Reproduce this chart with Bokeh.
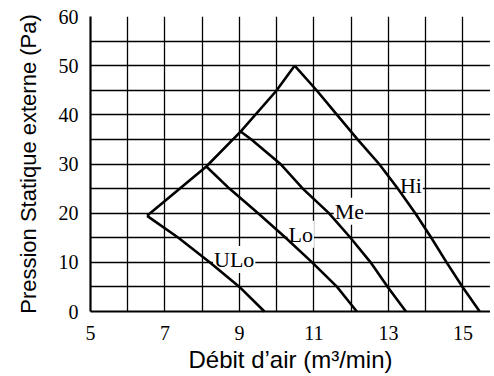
from bokeh.plotting import figure
from bokeh.models import Range1d, FixedTicker, Label
from bokeh.embed import file_html
from bokeh.resources import INLINE

# Data
env_x = [6.52, 8.11, 9.03, 9.99, 10.48]
env_y = [19.45, 29.5, 36.6, 44.9, 50.0]

hi_x = [10.48, 11.07, 11.62, 12.17, 12.75, 13.25, 13.72, 14.15, 14.56, 14.99, 15.45]
hi_y = [50, 45, 40, 35, 30, 25, 20, 15, 10, 5, 0]

me_x = [9.03, 9.32, 10.1, 10.7, 11.4, 11.98, 12.52, 12.98, 13.47]
me_y = [36.6, 35, 30, 25, 20, 15, 10, 5, 0]

lo_x = [8.11, 8.73, 9.5, 10.24, 10.95, 11.62, 12.15]
lo_y = [29.5, 25, 20, 15, 10, 5, 0]

ulo_x = [6.52, 7.36, 8.2, 9.0, 9.67]
ulo_y = [19.45, 15, 10, 5, 0]

curve_names = ["Hi", "Me", "Lo", "ULo"]
label_x = [13.28, 11.53, 10.29, 8.29]
label_y = [25.7, 20.4, 15.7, 10.6]

x_ticks = [5, 7, 9, 11, 13, 15]
x_grid = [5, 6, 7, 8, 9, 10, 11, 12, 13, 14, 15]
y_ticks = [0, 10, 20, 30, 40, 50, 60]
y_grid = [0, 5, 10, 15, 20, 25, 30, 35, 40, 45, 50, 55, 60]

p = figure(width=490, height=375, output_backend="svg", toolbar_location=None,
           x_range=Range1d(5, 15.74), y_range=Range1d(0, 60))
p.min_border_left = 90
p.min_border_right = 0
p.min_border_top = 16
p.min_border_bottom = 64
p.outline_line_color = None
p.background_fill_color = "white"
p.border_fill_color = "white"

p.xaxis.ticker = FixedTicker(ticks=x_ticks)
p.yaxis.ticker = FixedTicker(ticks=y_ticks)
p.xgrid.ticker = FixedTicker(ticks=x_grid)
p.ygrid.ticker = FixedTicker(ticks=y_grid)
for g in (p.xgrid, p.ygrid):
    g.grid_line_color = "black"
    g.grid_line_width = 1.3
    g.grid_line_alpha = 1.0

for ax in (p.xaxis, p.yaxis):
    ax.axis_line_color = "black"
    ax.axis_line_width = 2.2
    ax.major_tick_line_color = None
    ax.minor_tick_line_color = None
    ax.major_label_text_font = "Liberation Serif"
    ax.major_label_text_font_size = "20px"
    ax.major_label_text_color = "black"
    ax.axis_label_text_font = "Liberation Sans"
    ax.axis_label_text_font_style = "normal"
    ax.axis_label_text_color = "black"

p.xaxis.major_label_standoff = 8
p.yaxis.major_label_standoff = 6
p.xaxis.axis_label = "Débit d’air (m³/min)"
p.xaxis.axis_label_text_font_size = "24px"
p.xaxis.axis_label_standoff = 3
p.yaxis.axis_label = "Pression Statique externe (Pa)"
p.yaxis.axis_label_text_font_size = "22px"
p.yaxis.axis_label_standoff = 15

for name, lx, ly in zip(curve_names, label_x, label_y):
    p.add_layout(Label(x=lx, y=ly, text=name, text_font="Liberation Serif",
                       text_font_size="22px", text_color="black",
                       text_baseline="alphabetic", background_fill_color="white",
                       padding=1))

for xs, ys in ((env_x, env_y), (hi_x, hi_y), (me_x, me_y), (lo_x, lo_y), (ulo_x, ulo_y)):
    p.line(xs, ys, line_color="black", line_width=2.6, line_join="miter", level="overlay")

open("out.html", "w").write(file_html(p, INLINE))
